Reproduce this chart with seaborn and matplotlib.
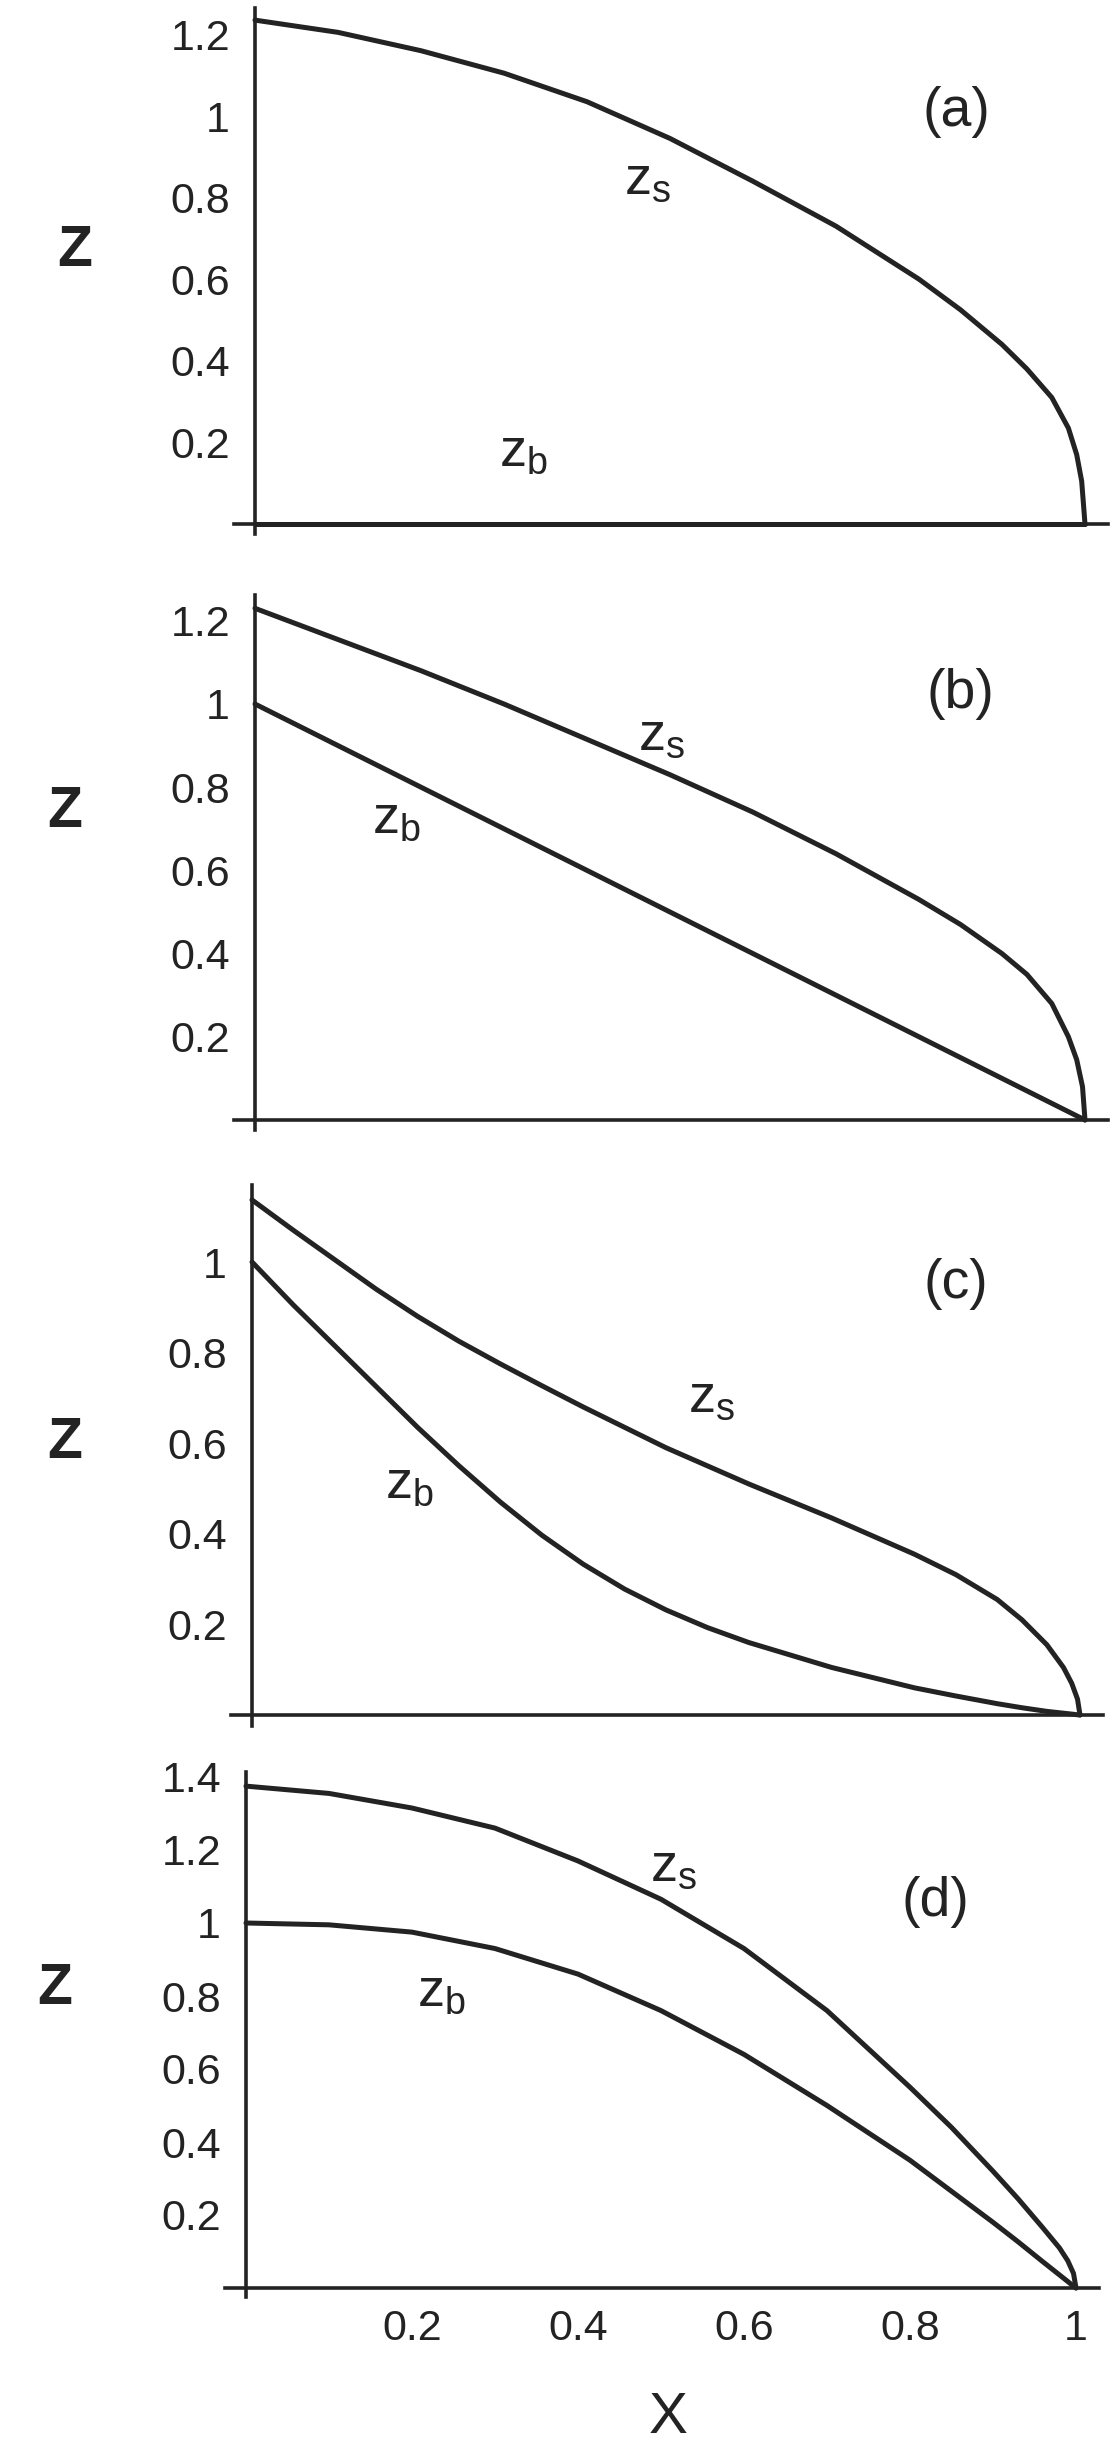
import matplotlib
matplotlib.use("Agg")
import matplotlib.pyplot as plt
from matplotlib.ticker import MultipleLocator, AutoMinorLocator, FuncFormatter
import seaborn as sns

# ---- data ----
# panel (a): flat bed
xa = [0, 0.1, 0.2, 0.3, 0.4, 0.5, 0.6, 0.7, 0.8, 0.85, 0.9, 0.93, 0.96, 0.98, 0.99, 0.996, 1.0]
zs_a = [1.235, 1.205, 1.16, 1.105, 1.035, 0.945, 0.84, 0.73, 0.60, 0.525, 0.44, 0.38, 0.31, 0.235, 0.17, 0.105, 0.0]
zb_a = [0.0] * len(xa)

# panel (b): sloping bed
xb = [0, 0.1, 0.2, 0.3, 0.4, 0.5, 0.6, 0.7, 0.8, 0.85, 0.9, 0.93, 0.96, 0.98, 0.99, 0.997, 1.0]
zs_b = [1.23, 1.155, 1.08, 1.0, 0.915, 0.83, 0.74, 0.64, 0.53, 0.47, 0.40, 0.35, 0.28, 0.20, 0.145, 0.08, 0.0]
zb_b = [1.0, 0.9, 0.8, 0.7, 0.6, 0.5, 0.4, 0.3, 0.2, 0.15, 0.1, 0.07, 0.04, 0.02, 0.01, 0.003, 0.0]

# panel (c): concave bed
xc = [0, 0.05, 0.1, 0.15, 0.2, 0.25, 0.3, 0.35, 0.4, 0.45, 0.5, 0.55, 0.6, 0.7, 0.8,
      0.85, 0.9, 0.93, 0.96, 0.98, 0.99, 0.997, 1.0]
zs_c = [1.137, 1.07, 1.005, 0.94, 0.88, 0.825, 0.775, 0.727, 0.68, 0.635, 0.59, 0.55, 0.51,
        0.435, 0.355, 0.31, 0.255, 0.21, 0.155, 0.105, 0.07, 0.035, 0.0]
zb_c = [1.0, 0.905, 0.815, 0.725, 0.635, 0.55, 0.47, 0.397, 0.333, 0.278, 0.232, 0.193, 0.16,
        0.105, 0.06, 0.042, 0.025, 0.016, 0.008, 0.004, 0.002, 0.0005, 0.0]

# panel (d): convex bed
xd = [0, 0.1, 0.2, 0.3, 0.4, 0.5, 0.6, 0.7, 0.8, 0.85, 0.9, 0.93, 0.96, 0.98, 0.99, 0.997, 1.0]
zs_d = [1.375, 1.355, 1.315, 1.26, 1.17, 1.065, 0.93, 0.76, 0.55, 0.44, 0.32, 0.245, 0.165, 0.11, 0.075, 0.04, 0.0]
zb_d = [1.0, 0.995, 0.975, 0.93, 0.86, 0.76, 0.64, 0.50, 0.35, 0.265, 0.18, 0.127, 0.072, 0.036, 0.018, 0.005, 0.0]

panel_tags = ["(a)", "(b)", "(c)", "(d)"]

# ---- style ----
sns.set_style("white")
plt.rcParams["font.family"] = ["Liberation Sans", "DejaVu Sans"]
ink = "#232323"

W, H = 1120, 2441
fig = plt.figure(figsize=(W / 100, H / 100), dpi=100)

# layout in pixels: x origin, px per unit x, z origin, px per unit z, top of z range
layout = [
    (255, 830, 524, 408, 1.265),
    (255, 830, 1120, 416, 1.262),
    (252, 828, 1715, 453, 1.17),
    (246, 830, 2288, 365, 1.414),
]
xlim = (-0.025, 1.028)
zbot = -0.024

# label positions (data coords): tag, z_s, z_b, Z
tag_pos = [(0.845, 0.975), (0.85, 0.99), (0.85, 0.92), (0.831, 1.02)]
zs_pos = [(0.473, 0.81), (0.49, 0.89), (0.555, 0.67), (0.515, 1.115)]
zb_pos = [(0.323, 0.142), (0.17, 0.69), (0.19, 0.48), (0.235, 0.775)]
Z_pos = [(-0.217, 0.67), (-0.229, 0.74), (-0.226, 0.60), (-0.231, 0.82)]

data = [(xa, zs_a, zb_a), (xb, zs_b, zb_b), (xc, zs_c, zb_c), (xd, zs_d, zb_d)]

fmt = FuncFormatter(lambda v, p: "" if abs(v) < 1e-9 else f"{v:g}")

for i, ((x, zs, zb), (x0, sx, z0, sz, ztop)) in enumerate(zip(data, layout)):
    left = x0 + xlim[0] * sx
    right = x0 + xlim[1] * sx
    top = z0 - ztop * sz
    bottom = z0 - zbot * sz
    ax = fig.add_axes([left / W, 1 - bottom / H, (right - left) / W, (bottom - top) / H])
    ax.set_facecolor("none")

    sns.lineplot(x=x, y=zs, ax=ax, color=ink, linewidth=3.6, estimator=None, sort=False)
    sns.lineplot(x=x, y=zb, ax=ax, color=ink, linewidth=3.6, estimator=None, sort=False)

    ax.set_xlim(*xlim)
    ax.set_ylim(zbot, ztop)

    for side in ["top", "right"]:
        ax.spines[side].set_visible(False)
    for side in ["left", "bottom"]:
        ax.spines[side].set_position(("data", 0))
        ax.spines[side].set_color(ink)
        ax.spines[side].set_linewidth(2.6)

    ax.xaxis.set_major_locator(MultipleLocator(0.2))
    ax.yaxis.set_major_locator(MultipleLocator(0.2))
    ax.xaxis.set_minor_locator(AutoMinorLocator(5))
    ax.yaxis.set_minor_locator(AutoMinorLocator(5))
    ax.yaxis.set_major_formatter(fmt)
    if i == 3:
        ax.xaxis.set_major_formatter(fmt)
    else:
        ax.xaxis.set_major_formatter(FuncFormatter(lambda v, p: ""))

    ax.tick_params(which="major", direction="in", length=6.5, width=1.8, color=ink,
                   labelsize=31, labelcolor=ink)
    ax.tick_params(which="minor", direction="in", length=3.5, width=1.3, color=ink)
    ax.tick_params(axis="y", which="major", pad=18)
    ax.tick_params(axis="x", which="major", pad=15)

    ax.text(*tag_pos[i], panel_tags[i], fontsize=40, color=ink, ha="center", va="baseline")
    ax.text(*zs_pos[i], r"$\mathregular{z_s}$", fontsize=39, color=ink, ha="center", va="baseline")
    ax.text(*zb_pos[i], r"$\mathregular{z_b}$", fontsize=39, color=ink, ha="center", va="baseline")
    ax.text(*Z_pos[i], "Z", fontsize=41, fontweight="bold", color=ink,
            ha="center", va="center", clip_on=False)

    if i == 3:
        ax.text(0.508, -0.356, "X", fontsize=42, color=ink, ha="center", va="center",
                clip_on=False)

fig.savefig("out.png", dpi=100, facecolor="white")
